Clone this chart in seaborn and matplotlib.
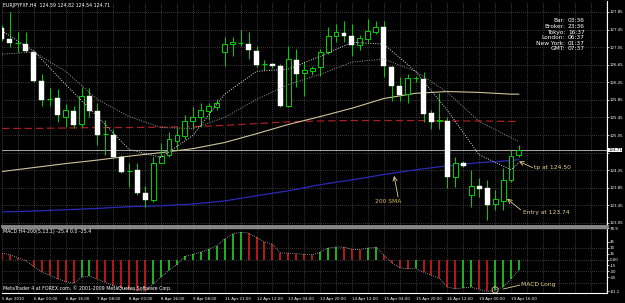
import numpy as np
import pandas as pd
import matplotlib
matplotlib.use("Agg")
import matplotlib.pyplot as plt
import seaborn as sns

# EURJPY H4 candles (bar 0 = 5 Apr 2010)
opens = [127.48, 127.23, 127.14, 127.12, 126.94, 126.27, 125.87, 125.90, 125.47, 125.59,
         125.29, 125.93, 125.59, 125.06, 125.06, 124.56, 124.23, 124.26, 123.74, 123.58,
         124.42, 124.60, 124.92, 125.02, 125.36, 125.45, 125.59, 125.68, 126.94, 127.12,
         127.14, 127.12, 126.96, 126.66, 126.66, 126.62, 125.70, 126.75, 126.46, 126.50,
         126.59, 126.94, 127.30, 127.37, 127.30, 127.10, 127.23, 127.39, 127.51, 126.59,
         126.16, 125.98, 126.32, 126.32, 125.56, 125.36, 125.36, 124.10, 124.42, 123.69,
         123.89, 123.85, 123.48, 123.55, 124.03, 124.59]
highs = [127.55, 127.85, 127.39, 127.39, 126.96, 126.43, 126.11, 126.09, 125.75, 125.70,
         126.14, 126.11, 125.79, 125.40, 125.18, 124.60, 124.42, 124.42, 123.90, 124.56,
         124.86, 125.11, 125.24, 125.50, 125.68, 125.79, 125.79, 125.88, 127.28, 127.28,
         127.44, 127.39, 127.07, 126.75, 126.70, 126.66, 127.07, 127.00, 126.71, 126.62,
         127.00, 127.51, 127.58, 127.64, 127.58, 127.32, 127.69, 127.64, 127.64, 126.62,
         126.36, 126.43, 126.40, 126.48, 125.63, 126.00, 125.47, 124.56, 124.45, 124.26,
         124.08, 124.03, 123.80, 124.31, 124.72, 124.82]
lows = [127.18, 127.05, 126.93, 126.94, 126.25, 125.70, 125.70, 125.34, 125.24, 125.22,
        125.24, 125.47, 124.83, 124.60, 124.54, 124.19, 123.87, 123.69, 123.42, 123.53,
        124.42, 124.56, 124.72, 124.95, 125.18, 125.24, 125.40, 125.63, 126.62, 126.84,
        127.07, 126.78, 126.59, 126.53, 126.57, 125.68, 125.68, 126.14, 125.93, 126.41,
        126.39, 126.89, 127.16, 127.16, 126.84, 126.98, 127.16, 127.35, 126.36, 125.82,
        125.82, 125.79, 126.25, 125.34, 125.18, 125.18, 123.85, 123.87, 124.33, 123.42,
        123.65, 123.12, 123.35, 123.35, 123.97, 124.54]
closes = [127.23, 127.14, 127.15, 126.96, 126.27, 125.84, 125.88, 125.50, 125.61, 125.27,
          125.93, 125.59, 125.06, 125.07, 124.56, 124.22, 124.24, 123.74, 123.58, 124.42,
          124.58, 124.95, 125.04, 125.36, 125.45, 125.61, 125.70, 125.79, 127.12, 127.16,
          127.15, 126.98, 126.64, 126.67, 126.62, 125.70, 126.78, 126.43, 126.53, 126.57,
          126.94, 127.30, 127.39, 127.30, 127.10, 127.26, 127.42, 127.51, 126.62, 126.16,
          125.95, 126.34, 126.34, 125.54, 125.34, 125.40, 124.10, 124.42, 124.35, 123.89,
          123.83, 123.46, 123.60, 124.03, 124.58, 124.71]

# MACD H4-200(5,13,1) histogram
macd_vals = [16, 12, 5, -3, -18, -32, -40, -49, -56, -60,
             -45, -42, -50, -58, -66, -72, -75, -79, -80, -62,
             -45, -27, -13, 8, 13, 19, 26, 35, 52, 65,
             69, 67, 56, 45, 39, 17, 16, 15, 13, 12,
             18, 29, 32, 31, 26, 25, 29, 31, 12, -8,
             -21, -23, -22, -32, -40, -48, -70, -74, -72, -70,
             -76, -81.1, -78, -70, -50, -25.4]

# moving averages, read every 4 bars
ma_idx = [0, 4, 8, 12, 16, 20, 24, 28, 32, 36, 40, 44, 48, 52, 56, 60, 64, 65]
fast_ma = [127.42, 126.96, 126.20, 125.47, 124.72, 124.54, 125.04, 125.98, 126.50,
           126.55, 126.84, 127.16, 127.12, 126.50, 125.61, 124.60, 124.26, 124.42]
slow_ma = [126.89, 126.94, 126.50, 125.86, 125.47, 125.22, 125.20, 125.45, 125.86,
           126.20, 126.43, 126.71, 126.78, 126.50, 126.02, 125.36, 124.99, 124.90]
khaki_ma = [124.22, 124.31, 124.40, 124.48, 124.57, 124.65, 124.74, 124.88, 125.08,
            125.29, 125.47, 125.66, 125.88, 126.00, 126.04, 126.02, 125.98, 125.98]
red_ma = [125.20, 125.20, 125.21, 125.22, 125.22, 125.23, 125.24, 125.27, 125.31,
          125.35, 125.37, 125.38, 125.38, 125.38, 125.37, 125.37, 125.36, 125.36]
sma_200 = [123.30, 123.32, 123.35, 123.38, 123.42, 123.44, 123.48, 123.55, 123.67,
           123.78, 123.92, 124.03, 124.15, 124.26, 124.35, 124.42, 124.47, 124.49]

time_labels = ['5 Apr 2010', '6 Apr 00:00', '6 Apr 16:00', '7 Apr 08:00', '8 Apr 00:00',
               '8 Apr 16:00', '9 Apr 08:00', '11 Apr 21:00', '12 Apr 12:00', '13 Apr 04:00',
               '13 Apr 20:00', '14 Apr 12:00', '15 Apr 04:00', '15 Apr 20:00', '16 Apr 12:00',
               '19 Apr 00:00', '19 Apr 16:00']
price_ticks = [123.05, 123.45, 123.85, 124.25, 124.65, 125.05, 125.45, 125.85,
               126.25, 126.65, 127.05, 127.45, 127.85]
macd_ticks = [78.9, 45, 30, 15, 0, -15, -30, -45, -81.1]
macd_tick_labels = ['78.9', '45', '30', '15', '0.00', '-15', '-30', '-45', '-81.1']
bid = 124.71

info_names = ['Bar:', 'Broker:', 'Tokyo:', 'London:', 'New York:', 'GMT:']
info_times = ['03:36', '23:36', '16:37', '06:37', '01:37', '07:37']

sns.set_style("dark")
plt.rcParams['font.family'] = ['DejaVu Sans']

W, H = 625, 303
FS = 3.4
AXFS = 2.9
GREEN = '#00d400'
GRID = '#707070'
KHAKI = '#e3d28c'


def box(x0, y0, x1, y1):
    return [x0 / W, 1 - y1 / H, (x1 - x0) / W, (y1 - y0) / H]


fig = plt.figure(figsize=(W / 100, H / 100), dpi=100, facecolor='black')
ax = fig.add_axes(box(2, 1, 607, 226))
axm = fig.add_axes(box(2, 228, 607, 293), sharex=ax)
for a in (ax, axm):
    a.set_facecolor('black')
    a.grid(False)
    for k in range(0, 77, 2):
        a.axvline(k, color=GRID, ls=(0, (1, 2)), lw=0.5, zorder=0)

# candles
df = pd.DataFrame({'o': opens, 'h': highs, 'l': lows, 'c': closes})
df['i'] = np.arange(len(df))
ax.vlines(df.i, df.l, df.h, color=GREEN, lw=0.7, zorder=3)
bear = df[df.c < df.o - 0.025]
bull = df[df.c > df.o + 0.025]
doji = df[(df.c - df.o).abs() <= 0.025]
ax.bar(bear.i, bear.o - bear.c, bottom=bear.c, width=0.62, color='white',
       edgecolor='white', lw=0.3, zorder=4)
ax.bar(bull.i, bull.c - bull.o, bottom=bull.o, width=0.62, color='black',
       edgecolor=GREEN, lw=0.7, zorder=4)
ax.hlines(doji.c, doji.i - 0.31, doji.i + 0.31, color=GREEN, lw=0.8, zorder=4)

for yv in price_ticks:
    ax.axhline(yv, color=GRID, ls=(0, (1, 2)), lw=0.5, zorder=0)
ax.axhline(bid, color='#a8a8a8', lw=0.7, zorder=1)

# moving averages
sns.lineplot(x=ma_idx, y=sma_200, ax=ax, color='#2a2ab8', lw=0.9, zorder=2)
sns.lineplot(x=ma_idx, y=red_ma, ax=ax, color='#a52020', lw=0.9, linestyle=(0, (6, 3)), zorder=2)
sns.lineplot(x=ma_idx, y=khaki_ma, ax=ax, color='#cfc49a', lw=0.8, zorder=2)
sns.lineplot(x=ma_idx, y=slow_ma, ax=ax, color='#9a9a9a', lw=0.7, linestyle=(0, (1, 1.5)), zorder=5)
sns.lineplot(x=ma_idx, y=fast_ma, ax=ax, color='#dcdcdc', lw=0.7, linestyle=(0, (1, 1.5)), zorder=5)

ax.set_xlim(0.063, 76.07)
ax.set_ylim(122.98, 128.10)
ax.yaxis.tick_right()
ax.set_yticks(price_ticks)
ax.set_yticklabels(['' if abs(p - 124.65) < 1e-6 else f'{p:.2f}' for p in price_ticks])
ax.tick_params(axis='y', colors='white', labelsize=AXFS, length=1.5, width=0.5, pad=0.5)
ax.tick_params(axis='x', length=0, labelbottom=False)
ax.text(1.002, bid, f'{bid:.2f}', transform=ax.get_yaxis_transform(), color='black',
        fontsize=AXFS, va='center', ha='left', clip_on=False,
        bbox=dict(fc='white', ec='none', pad=0.3))

# annotations on price panel
ax.text(46.9, 123.53, '200 SMA', color='#d9bd52', fontsize=4.3, va='center')
ax.annotate('', xy=(49.3, 124.12), xytext=(49.8, 123.64),
            arrowprops=dict(arrowstyle='->,head_length=0.3,head_width=0.15', color=KHAKI,
                            lw=0.6, shrinkA=0, shrinkB=0))
ax.text(66.9, 124.31, 'tp at 124.50', color=KHAKI, fontsize=4.3, va='center')
ax.annotate('', xy=(65.0, 124.45), xytext=(66.7, 124.31),
            arrowprops=dict(arrowstyle='->,head_length=0.3,head_width=0.15', color=KHAKI,
                            lw=0.6, shrinkA=0, shrinkB=0))
ax.text(65.5, 123.28, 'Entry at 123.74', color=KHAKI, fontsize=4.3, va='center')
ax.annotate('', xy=(63.5, 123.60), xytext=(65.2, 123.35),
            arrowprops=dict(arrowstyle='->,head_length=0.3,head_width=0.15', color=KHAKI,
                            lw=0.6, shrinkA=0, shrinkB=0))

# MACD panel
macd = np.array(macd_vals)
prev = np.r_[np.inf, macd[:-1]]
bar_cols = np.where(macd > prev, '#22c022', '#c01a1a')
idx = np.arange(len(macd))
axm.vlines(idx, 0, macd, colors=bar_cols, lw=1.3, zorder=2)
sns.lineplot(x=idx, y=macd, ax=axm, color='#b8b8b8', lw=0.6, linestyle=(0, (1, 1.5)), zorder=3)
for yv in [30, 0, -30, -60]:
    axm.axhline(yv, color=GRID, ls=(0, (1, 2)), lw=0.5, zorder=0)
sns.scatterplot(x=[62], y=[-77], ax=axm, s=20, facecolors='none', edgecolor=KHAKI,
                linewidth=0.6, zorder=5)
axm.plot([63.0, 65.1], [-75, -65], color=KHAKI, lw=0.6)
axm.text(65.3, -63, 'MACD Long', color=KHAKI, fontsize=4.3, va='center')

axm.set_ylim(-85, 80)
axm.yaxis.tick_right()
axm.set_yticks(macd_ticks)
axm.set_yticklabels(macd_tick_labels)
axm.set_xticks(range(0, 65, 4))
axm.set_xticklabels(time_labels, ha='left')
axm.tick_params(axis='y', colors='white', labelsize=AXFS, length=1.5, width=0.5, pad=0.5)
axm.tick_params(axis='x', colors='white', labelsize=AXFS, length=2, width=0.5, pad=1)

for a in (ax, axm):
    a.set_xlabel('')
    a.set_ylabel('')
    a.spines['left'].set_visible(False)
    a.spines['right'].set_color('white')
    a.spines['right'].set_linewidth(0.8)
ax.spines['top'].set_visible(False)
ax.spines['bottom'].set_color('#8c8c8c')
ax.spines['bottom'].set_linewidth(2)
axm.spines['top'].set_color('#8c8c8c')
axm.spines['top'].set_linewidth(1)
axm.spines['bottom'].set_color('white')
axm.spines['bottom'].set_linewidth(0.8)

# header / info texts
fig.text(3 / W, 1 - 5 / H, 'EURJPYFXF,H4  124.59 124.82 124.54 124.71', color='white',
         fontsize=FS, va='center')
for k, (nm, tm) in enumerate(zip(info_names, info_times)):
    yy = 1 - (21 + 5.6 * k) / H
    fig.text(565 / W, yy, nm, color='white', fontsize=4.2, ha='right', va='center')
    fig.text(568 / W, yy, tm, color='white', fontsize=4.2, ha='left', va='center')
fig.text(3 / W, 1 - 232 / H, 'MACD H4-200(5,13,1) -25.4 0.0 -25.4', color='white',
         fontsize=FS, va='center')
fig.text(3 / W, 1 - 288 / H, 'MetaTrader 4 at FOREX.com, \u00a9 2001-2009 MetaQuotes Software Corp.',
         color='white', fontsize=FS, va='center')

fig.savefig('out.png', dpi=100, facecolor='black')
